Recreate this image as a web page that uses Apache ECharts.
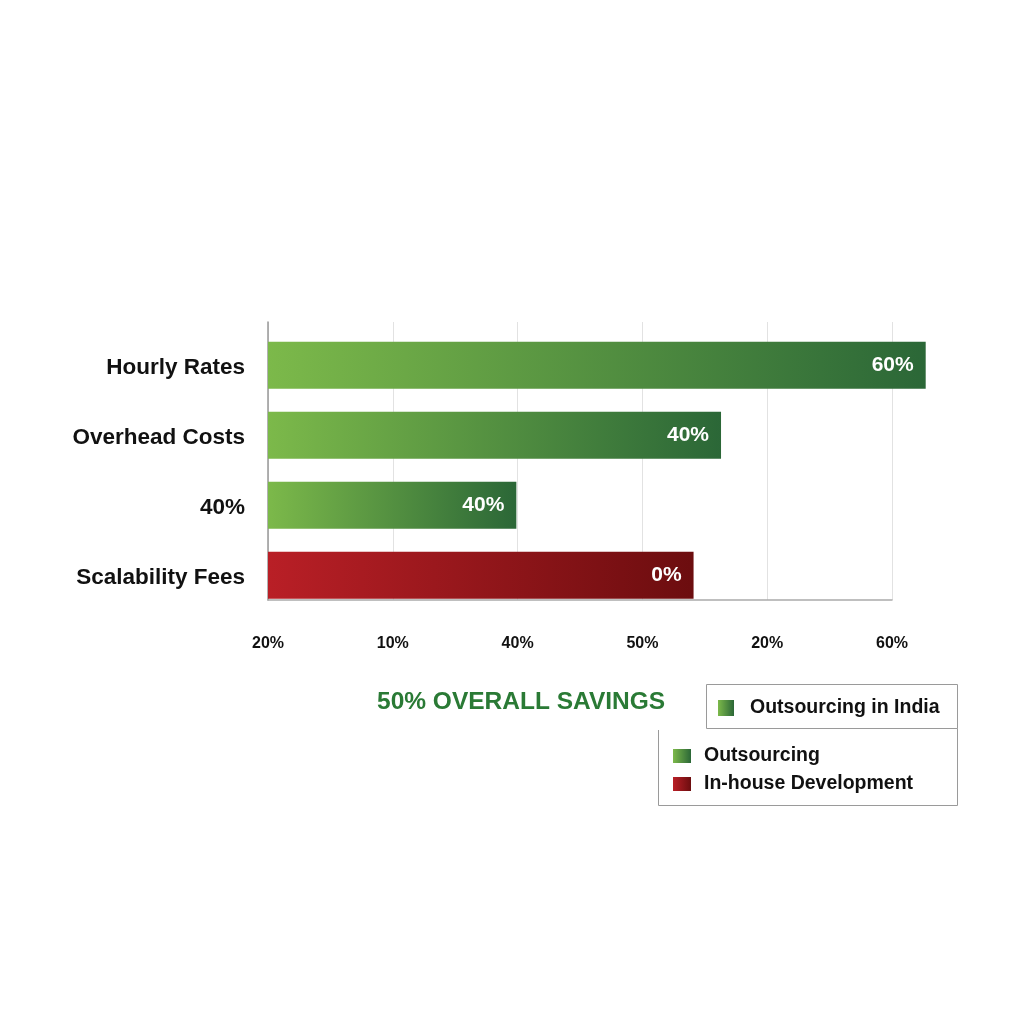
<!DOCTYPE html>
<html>
<head>
<meta charset="utf-8">
<script src="https://cdn.jsdelivr.net/npm/echarts@6/dist/echarts.min.js"></script>
<style>
html,body{margin:0;padding:0;background:#fff;}
#c{width:1024px;height:1024px;}
</style>
</head>
<body>
<div id="c"></div>
<script>
// ---- data ----
const categories = ['Hourly Rates', 'Overhead Costs', '40%', 'Scalability Fees'];
const outsourcingValues = [5.27, 3.63, 1.99, '-'];
const inhouseValues = ['-', '-', '-', 3.41];
const barLabels = ['60%', '40%', '40%', '0%'];
const tickLabels = ['20%', '10%', '40%', '50%', '20%', '60%'];
const titleText = '50% OVERALL SAVINGS';

const FONT = 'Liberation Sans, Arial, sans-serif';
const greenGrad = new echarts.graphic.LinearGradient(0, 0, 1, 0, [
  {offset: 0, color: '#7cb94a'}, {offset: 1, color: '#2b6737'}
]);
const redGrad = new echarts.graphic.LinearGradient(0, 0, 1, 0, [
  {offset: 0, color: '#b91f26'}, {offset: 1, color: '#6c0d0f'}
]);

const labelCfg = {
  show: true, position: 'insideRight', distance: 12,
  color: '#fff', fontWeight: 'bold', fontSize: 21, fontFamily: FONT,
  formatter: p => barLabels[p.dataIndex]
};

const chart = echarts.init(document.getElementById('c'), null, {renderer: 'canvas'});
chart.setOption({
  backgroundColor: '#fff',
  animation: false,
  title: {
    text: titleText, left: 372, top: 685,
    textStyle: {color: '#2a7a35', fontSize: 24.5, fontWeight: 'bold', fontFamily: FONT}
  },
  grid: [
    {left: 268, width: 624, top: 322, height: 278},
    {left: 268, width: 624, top: 332.5, height: 280}
  ],
  xAxis: [
    {
      gridIndex: 0, type: 'value', min: 0, max: 5, interval: 1,
      axisLine: {show: true, lineStyle: {color: '#aaa', width: 1.5}},
      axisTick: {show: false},
      splitLine: {show: true, lineStyle: {color: '#e2e2e2', width: 1}},
      axisLabel: {
        margin: 36, color: '#111', fontSize: 16, fontWeight: 'bold', fontFamily: FONT,
        formatter: v => tickLabels[Math.round(v)] || ''
      }
    },
    {gridIndex: 1, type: 'value', min: 0, max: 5, show: false}
  ],
  yAxis: [
    {
      gridIndex: 0, type: 'value', min: 0, max: 1,
      axisLine: {show: true, lineStyle: {color: '#999', width: 1.5}},
      axisTick: {show: false}, axisLabel: {show: false}, splitLine: {show: false}
    },
    {
      gridIndex: 1, type: 'category', data: categories, inverse: true,
      axisLine: {show: false}, axisTick: {show: false}, splitLine: {show: false},
      axisLabel: {margin: 23, color: '#111', fontSize: 22.5, fontWeight: 'bold', fontFamily: FONT}
    }
  ],
  legend: [
    {
      data: ['Outsourcing in India'], left: 718, top: 698, itemWidth: 16, itemHeight: 16, padding: 0,
      itemGap: 10, selectedMode: false, icon: 'rect',
      textStyle: {color: '#111', fontSize: 19.5, fontWeight: 'bold', fontFamily: FONT, padding: [0,0,0,11]}
    },
    {
      data: ['Outsourcing', 'In-house Development'], orient: 'vertical', left: 673, top: 746, padding: 0,
      itemWidth: 18, itemHeight: 14, itemGap: 8, selectedMode: false, icon: 'rect',
      textStyle: {color: '#111', fontSize: 19.5, fontWeight: 'bold', fontFamily: FONT, padding: [0,0,0,8]}
    }
  ],
  graphic: [
    {type: 'rect', shape: {x: 706.5, y: 684.5, width: 251, height: 44}, style: {fill: 'none', stroke: '#9a9a9a', lineWidth: 1}},
    {type: 'polyline', shape: {points: [[658.5, 730], [658.5, 805.5], [957.5, 805.5], [957.5, 728.5]]}, style: {fill: 'none', stroke: '#9a9a9a', lineWidth: 1}}
  ],
  series: [
    {
      name: 'Outsourcing in India', type: 'bar', xAxisIndex: 1, yAxisIndex: 1,
      stack: 'all', barWidth: 47, clip: false, data: outsourcingValues,
      itemStyle: {color: greenGrad}, label: labelCfg
    },
    {
      name: 'In-house Development', type: 'bar', xAxisIndex: 1, yAxisIndex: 1,
      stack: 'all', barWidth: 47, clip: false, data: inhouseValues,
      itemStyle: {color: redGrad}, label: labelCfg
    },
    {
      name: 'Outsourcing', type: 'bar', xAxisIndex: 1, yAxisIndex: 1,
      data: [], itemStyle: {color: greenGrad}
    }
  ]
});
</script>
</body>
</html>
